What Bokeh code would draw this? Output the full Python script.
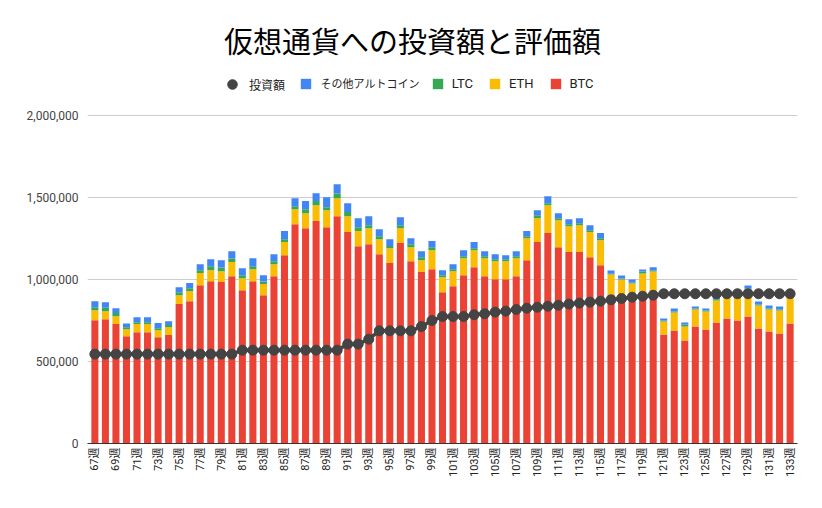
import numpy as np
from bokeh.plotting import figure
from bokeh.models import (Range1d, FixedTicker, Legend, LegendItem, Label,
                          NumeralTickFormatter, ColumnDataSource)
from bokeh.embed import file_html
from bokeh.resources import INLINE

weeks = list(range(67, 134))
tick_weeks = list(range(67, 134, 2))
tick_labels = [f"{w}週" for w in tick_weeks]
y_ticks = [0, 500000, 1000000, 1500000, 2000000]

btc = [752000, 758000, 728000, 654000, 679000, 679000, 648000, 661000, 850000, 868000,
       965000, 990000, 984000, 1020000, 935000, 990000, 904000, 1020000, 1148000, 1337000,
       1313000, 1356000, 1319000, 1386000, 1289000, 1203000, 1215000, 1154000, 1100000, 1222000,
       1112000, 1045000, 1063000, 923000, 959000, 1026000, 1075000, 1020000, 1002000, 1002000,
       1020000, 1118000, 1228000, 1283000, 1197000, 1167000, 1167000, 1136000, 1087000, 908000,
       896000, 905000, 927000, 933000, 665000, 689000, 628000, 713000, 695000, 738000,
       762000, 750000, 774000, 701000, 683000, 671000, 732000]
eth = [61000, 49000, 48000, 43000, 49000, 49000, 43000, 48000, 54000, 61000,
       74000, 67000, 67000, 86000, 73000, 73000, 68000, 73000, 80000, 92000,
       91000, 97000, 104000, 110000, 97000, 92000, 98000, 92000, 91000, 91000,
       85000, 73000, 116000, 91000, 92000, 104000, 104000, 110000, 110000, 110000,
       110000, 134000, 146000, 170000, 165000, 158000, 164000, 153000, 153000, 122000,
       104000, 71000, 110000, 116000, 79000, 110000, 85000, 104000, 110000, 134000,
       138000, 145000, 159000, 140000, 134000, 140000, 156000]
ltc = [18000, 20000, 19000, 12000, 12000, 12000, 12000, 13000, 19000, 18000,
       18000, 24000, 22000, 22000, 18000, 18000, 16000, 19000, 18000, 18000,
       25000, 25000, 18000, 28000, 25000, 24000, 18000, 18000, 14000, 18000,
       18000, 18000, 18000, 12000, 12000, 12000, 12000, 12000, 12000, 12000,
       12000, 12000, 18000, 12000, 12000, 12000, 12000, 12000, 12000, 5000,
       6000, 6000, 12000, 6000, 6000, 6000, 13000, 6000, 6000, 8000,
       6000, 6000, 12000, 7000, 6000, 6000, 6000]
other = [37000, 35000, 30000, 23000, 30000, 30000, 31000, 24000, 30000, 31000,
         36000, 43000, 45000, 45000, 43000, 49000, 38000, 42000, 49000, 49000,
         49000, 48000, 61000, 57000, 54000, 55000, 55000, 43000, 41000, 49000,
         37000, 37000, 37000, 31000, 30000, 37000, 37000, 31000, 30000, 24000,
         31000, 31000, 31000, 43000, 30000, 31000, 31000, 30000, 31000, 20000,
         18000, 18000, 12000, 20000, 12000, 18000, 12000, 12000, 12000, 20000,
         15000, 15000, 18000, 18000, 18000, 18000, 15000]
invest = [545000, 545000, 545000, 545000, 545000, 545000, 545000, 545000, 545000, 545000,
          545000, 545000, 545000, 545000, 569000, 569000, 569000, 569000, 569000, 569000,
          569000, 569000, 569000, 569000, 606000, 606000, 636000, 687000, 687000, 687000,
          687000, 713000, 750000, 774000, 774000, 774000, 785000, 791000, 801000, 807000,
          817000, 825000, 831000, 837000, 843000, 850000, 856000, 862000, 868000, 876000,
          884000, 892000, 898000, 904000, 913000, 913000, 913000, 913000, 913000, 913000,
          913000, 913000, 913000, 913000, 913000, 913000, 913000]

series_names = ["BTC", "ETH", "LTC", "その他アルトコイン"]
colors = ["#ea4335", "#fbbc04", "#34a853", "#4285f4"]

src = ColumnDataSource(dict(week=weeks, BTC=btc, ETH=eth, LTC=ltc, OTHER=other, invest=invest))

FONT = "Roboto, Noto Sans CJK JP"

# The frame reaches the top of the canvas; only 0..2,000,000 has grid lines,
# so the blank band above holds the title and legend.
y_top = 2000000 * 443 / 328

p = figure(width=822, height=508, output_backend="svg", toolbar_location=None,
           x_range=Range1d(66.3, 133.7), y_range=Range1d(0, y_top),
           min_border_left=87, min_border_right=25, min_border_top=0, min_border_bottom=65)
p.outline_line_color = None
p.border_fill_color = "white"

rs = p.vbar_stack(["BTC", "ETH", "LTC", "OTHER"], x="week", width=0.67, source=src,
                  fill_color=colors, line_color=None)
ln = p.line("week", "invest", source=src, line_width=3.5, line_color="#444444")
sc = p.scatter("week", "invest", source=src, size=10, fill_color="#444444", line_color="#444444")

p.xgrid.visible = False
p.ygrid.grid_line_color = "#cccccc"
p.ygrid.grid_line_width = 1

p.yaxis.ticker = FixedTicker(ticks=y_ticks)
p.yaxis.formatter = NumeralTickFormatter(format="0,0")
p.yaxis.axis_line_color = None
p.yaxis.major_tick_line_color = None
p.yaxis.minor_tick_line_color = None
p.yaxis.major_tick_out = 0
p.yaxis.major_tick_in = 0
p.yaxis.major_label_text_font = FONT
p.yaxis.major_label_text_font_size = "12px"
p.yaxis.major_label_text_color = "#444444"
p.yaxis.major_label_standoff = 9

p.xaxis.ticker = FixedTicker(ticks=tick_weeks)
p.xaxis.major_label_overrides = {w: lab for w, lab in zip(tick_weeks, tick_labels)}
p.xaxis.major_label_orientation = np.pi / 2
p.xaxis.axis_line_color = "#333333"
p.xaxis.axis_line_width = 1
p.xaxis.major_tick_line_color = None
p.xaxis.minor_tick_line_color = None
p.xaxis.major_tick_out = 0
p.xaxis.major_tick_in = 0
p.xaxis.major_label_text_font = FONT
p.xaxis.major_label_text_font_size = "11px"
p.xaxis.major_label_text_color = "#222222"
p.xaxis.major_label_standoff = 4

title = Label(x=325, y=404, x_units="screen", y_units="screen",
              text="仮想通貨への投資額と評価額", text_align="center", text_baseline="middle",
              text_font="Noto Sans CJK JP", text_font_size="29px", text_color="#000000")
p.add_layout(title)

common = dict(orientation="horizontal", padding=0, margin=0, border_line_color=None,
              background_fill_alpha=0, label_text_font=FONT, label_text_color="#222222")
leg1 = Legend(items=[LegendItem(label="投資額", renderers=[sc])], location=(133, 347),
              glyph_width=24, glyph_height=24, label_standoff=5, label_height=24,
              label_text_font_size="12px", **common)
leg2 = Legend(items=[LegendItem(label=series_names[3], renderers=[rs[3]])],
              location=(211.5, 352), glyph_width=13, glyph_height=13, label_standoff=9,
              label_height=13, label_text_font_size="11px", **common)
leg3 = Legend(items=[LegendItem(label=series_names[2], renderers=[rs[2]]),
                     LegendItem(label=series_names[1], renderers=[rs[1]]),
                     LegendItem(label=series_names[0], renderers=[rs[0]])],
              location=(343.7, 352), glyph_width=13, glyph_height=13, label_standoff=8,
              label_height=13, spacing=15, label_text_font_size="13px", **common)
p.add_layout(leg1)
p.add_layout(leg2)
p.add_layout(leg3)

open("out.html", "w").write(file_html(p, INLINE))
